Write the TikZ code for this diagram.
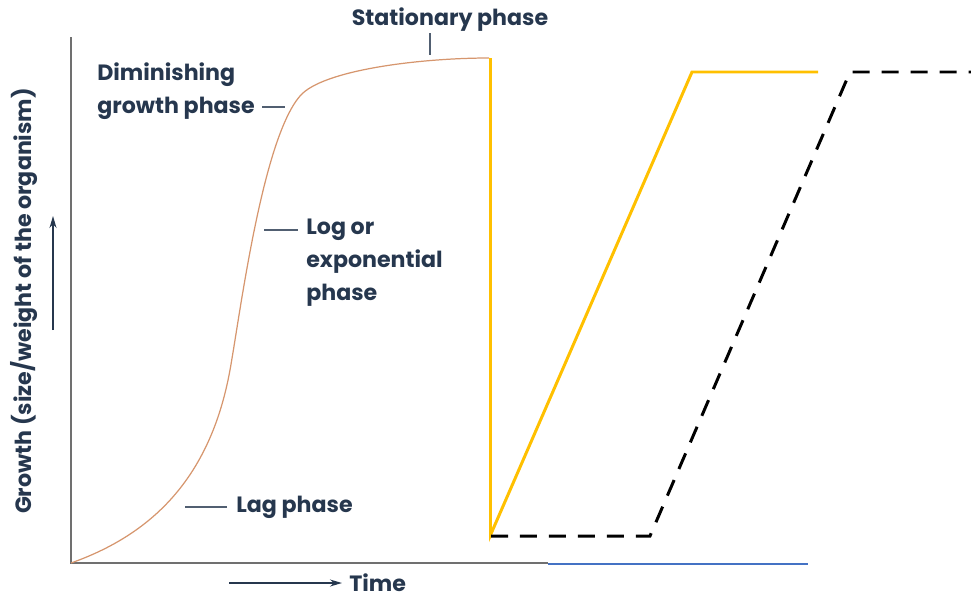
\documentclass[tikz,border=0pt]{standalone}
\usepackage{fontspec}
\setmainfont{Poppins}
\usetikzlibrary{arrows.meta, positioning}
\definecolor{labelnavy}{RGB}{38, 55, 78}
\definecolor{axisgray}{RGB}{112, 112, 112}
\definecolor{curvetan}{RGB}{214, 150, 110}
\definecolor{goldline}{RGB}{255, 192, 0}
\definecolor{blueline}{RGB}{68, 114, 196}
\tikzset{
  >=Stealth,
  phaselabel/.style={font=\bfseries\fontsize{12.6}{18.8}\selectfont, text=labelnavy, inner sep=0pt, align=left},
  ticktext/.style={draw=labelnavy!80, line width=0.9pt},
  axisline/.style={draw=axisgray, line width=1.1pt},
  axisarrow/.style={-{Stealth[length=2.4mm, width=1.4mm]}, labelnavy, line width=0.8pt},
  growthcurve/.style={draw=curvetan, line width=0.7pt},
  goldpath/.style={draw=goldline, line width=1.7pt},
  blackpath/.style={draw=black, line width=1.7pt, dash pattern=on 0.34cm off 0.24cm},
  bluepath/.style={draw=blueline, line width=1.6pt}
}

\begin{document}
\begin{tikzpicture}[x=0.02cm, y=-0.02cm]
    \useasboundingbox (0,0) rectangle (971,599);

    % Axes
    \coordinate (origin) at (71,563);
    \coordinate (ytop) at (71,37);
    \coordinate (xend) at (548,563);
    \draw[axisline] (ytop) -- (origin) -- (xend);

    % Axis labels
    \node[phaselabel, rotate=90] (ylab) at (24,301) {Growth (size/weight of the organism)};
    \coordinate (yarrowfoot) at (53,330);
    \coordinate (yarrowtip) at (53,216);
    \draw[axisarrow] (yarrowfoot) -- (yarrowtip);

    \node[phaselabel, anchor=west] (time) at (349,583) {Time};
    \coordinate (tarrowfoot) at (229,583);
    \draw[axisarrow] (tarrowfoot) -- ([xshift=-4pt]time.west);

    % Growth curve
    \coordinate (lagend) at (230,370);
    \coordinate (logend) at (300,96);
    \coordinate (statend) at (489,58);
    \draw[growthcurve] (origin) .. controls (150,535) and (210,480) .. (lagend)
        .. controls (240,315) and (262,140) .. (logend)
        .. controls (322,70) and (420,58) .. (statend);

    % Phase labels
    \node[phaselabel, anchor=west] (lag) at (236,507) {Lag phase};
    \draw[ticktext] ([xshift=-5pt]lag.west) -- +(-42,0);

    \node[phaselabel, anchor=west] (logph) at (306,263) {Log or\\exponential\\phase};
    \draw[ticktext] (264,230) -- (298,230);

    \node[phaselabel, anchor=west] (dimin) at (97,91) {Diminishing\\growth phase};
    \draw[ticktext] (262,107) -- (285,107);

    \node[phaselabel] (stat) at (450,20) {Stationary phase};
    \draw[ticktext] (430,33) -- (430,55);

    % Overlaid lines
    \coordinate (gtop) at (490.5,58);
    \coordinate (gbot) at (490.5,535);
    \coordinate (gpeak) at (692,72);
    \coordinate (gend) at (818,72);
    \draw[goldpath] (gtop) -- (gbot) -- (gpeak) -- (gend);

    \coordinate (bstart) at (491,536);
    \coordinate (bknee) at (650,536);
    \coordinate (bpeak) at (850,72);
    \coordinate (bend) at (971,72);
    \draw[blackpath] (bstart) -- (bknee) -- (bpeak) -- (bend);

    \coordinate (bluestart) at (548,564);
    \coordinate (blueend) at (808,564);
    \draw[bluepath] (bluestart) -- (blueend);
\end{tikzpicture}
\end{document}
